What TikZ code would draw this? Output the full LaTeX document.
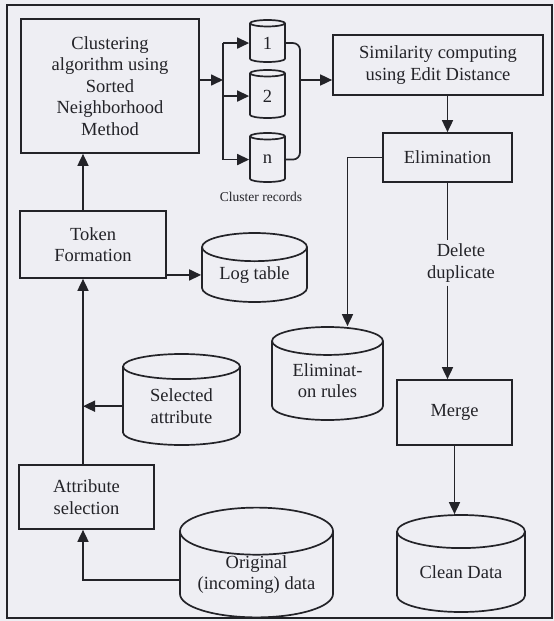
\documentclass[tikz,border=0pt]{standalone}
\usepackage{fontspec}
\setmainfont{Liberation Serif}
\usepackage{tikz}
\usetikzlibrary{shapes.geometric}
\usetikzlibrary{arrows.meta,positioning,calc}
\usepackage{xcolor}
\definecolor{paper}{RGB}{238,238,243}
\definecolor{ink}{RGB}{35,35,40}
\tikzset{
  process/.style={draw=ink,line width=1.7pt,rectangle,align=center,text=ink,
    font=\fontsize{18.5}{21.5}\selectfont,inner sep=0pt},
  store/.style={draw=ink,line width=1.7pt,cylinder,shape border rotate=90,
    aspect=0.4,align=center,text=ink,anchor=shape center,
    font=\fontsize{18.5}{21.5}\selectfont,inner sep=0pt},
  small store/.style={store,aspect=0.7},
  flow/.style={draw=ink,line width=1.7pt,-{Triangle[length=12pt,width=11pt]}},
  link/.style={draw=ink,line width=1.7pt}
}
\begin{document}
\begin{tikzpicture}[x=1pt,y=-1pt]
  \useasboundingbox[fill=paper] (0,0) rectangle (554,621);
  \draw[ink,line width=2pt] (7,5) rectangle (552,618);

  % processing steps
  \node[process,minimum width=178pt,minimum height=134pt] (clus) at (110,86)
    {Clustering\\algorithm using\\Sorted\\Neighborhood\\Method};
  \node[process,minimum width=146pt,minimum height=67pt] (token) at (93,244.5)
    {Token\\Formation};
  \node[process,minimum width=135pt,minimum height=64pt] (attsel) at (86.5,497)
    {Attribute\\selection};
  \node[process,minimum width=210pt,minimum height=60pt] (simil) at (438,65)
    {Similarity computing\\using Edit Distance};
  \node[process,minimum width=129pt,minimum height=49pt] (elim) at (447.5,157.5)
    {Elimination};
  \node[process,minimum width=115pt,minimum height=65pt] (merge) at (454.5,412.5)
    {Merge};

  % data stores
  \node[small store,minimum width=35pt,minimum height=42pt] (c1) at (267.5,41) {1};
  \node[small store,minimum width=35pt,minimum height=48pt] (c2) at (267.5,94) {2};
  \node[small store,minimum width=35pt,minimum height=49pt] (cn) at (267.5,157.5) {n};
  \node[text=ink,font=\fontsize{13.5}{16}\selectfont] (crec) at (261,197) {Cluster records};
  \node[store,minimum width=105pt,minimum height=69pt] (logt) at (254.5,267.5) {Log table};
  \node[store,minimum width=117pt,minimum height=91pt] (selatt) at (181.5,399.5)
    {Selected\\attribute};
  \node[store,minimum width=111pt,minimum height=93pt] (elimr) at (327.5,373.5)
    {Eliminat-\\on rules};
  \node[store,minimum width=153pt,minimum height=99pt] (orig) at (256.5,562.5)
    {Original\\(incoming) data};
  \node[store,minimum width=128pt,minimum height=97pt] (clean) at (461,563.5)
    {Clean Data};
  \node[text=ink,align=center,font=\fontsize{18.5}{21.5}\selectfont] (deldup) at (461,263)
    {Delete\\duplicate};

  % connectors
  \coordinate (trunk) at (83,0);
  \coordinate (split) at (223,80);
  \coordinate (join) at (300,80);
  \draw[flow] (orig.west |- 0,580) -| (attsel.south -| trunk);
  \draw[flow] (attsel.north -| trunk) -- (token.south -| trunk);
  \draw[flow] (selatt.west) -- (selatt.west -| trunk);
  \draw[flow] (token.north -| trunk) -- (clus.south -| trunk);
  \draw[flow] (token.east |- logt.west) -- (logt.west);
  \draw[flow] (clus.east |- split) -- (split);
  \draw[link] (split |- c1.west) -- (split |- cn.west);
  \foreach \c in {c1,c2,cn}
    \draw[flow] (split |- \c.west) -- (\c.west);
  \draw[link,rounded corners=7pt] (c1.east) -| (join) |- (cn.east);
  \draw[flow] (join) -- (simil.west |- join);
  \draw[flow] (simil.south -| elim.north) -- (elim.north);
  \draw[flow] (elim.west) -| ([xshift=20pt]elimr.north);
  \draw[link] (elim.south) -- (elim.south |- deldup.north);
  \draw[flow] (elim.south |- deldup.south) -- (elim.south |- merge.north);
  \draw[flow] (merge.south) -- (merge.south |- clean.north);
\end{tikzpicture}
\end{document}
